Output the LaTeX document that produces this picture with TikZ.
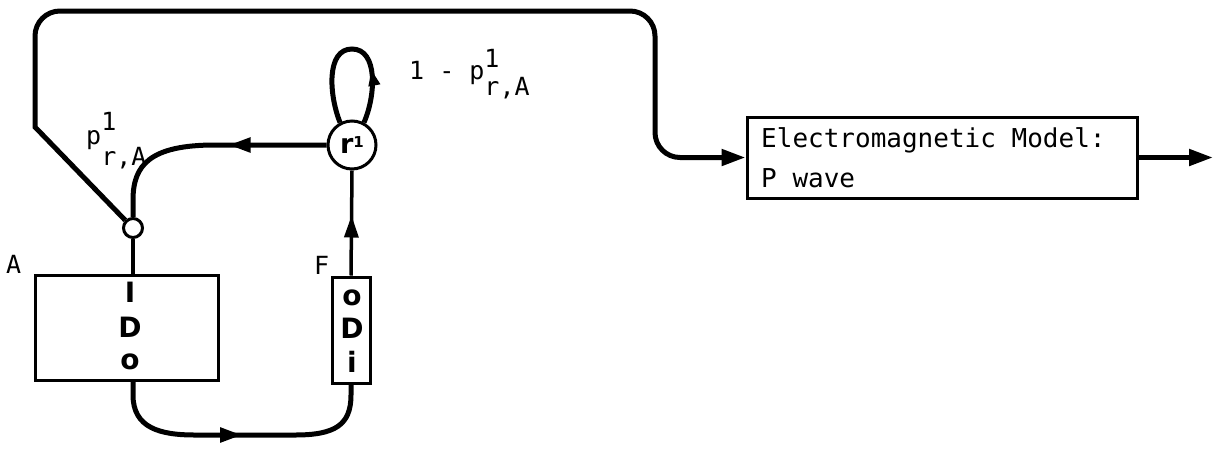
\documentclass[tikz,border=0pt]{standalone}
\usepackage{fontspec}
\newfontfamily\monof{DejaVu Sans Mono}
\newfontfamily\sansf{DejaVu Sans}
\usetikzlibrary{arrows.meta,decorations.markings,calc}
\begin{document}
\begin{tikzpicture}[x=1pt,y=-1pt,
  conn/.style={line width=5pt},
  thinconn/.style={line width=3.5pt},
  box/.style={draw,line width=3pt,inner sep=0pt},
  lbl/.style={font=\monof\fontsize{25}{25}\selectfont, inner sep=0pt, anchor=base west},
  emtext/.style={font=\monof\fontsize{26}{26}\selectfont, inner sep=0pt, anchor=base west},
  inbox/.style={font=\sansf\bfseries\fontsize{28}{28}\selectfont, inner sep=0pt},
  arrowat/.style={postaction={decorate,decoration={markings,mark=at position #1 with {\arrow{Triangle[length=22pt,width=14pt]}}}}},
  smallarrowat/.style={postaction={decorate,decoration={markings,mark=at position #1 with {\arrow{Triangle[length=16pt,width=11pt]}}}}},
  tipend/.style={-{Triangle[length=24pt,width=16pt]}}
]
\useasboundingbox (0,0) rectangle (1214,448);

% boxes and circles
\node[box, minimum width=183pt, minimum height=105pt] (A) at (126.5,327.5) {};
\node[box, minimum width=38pt, minimum height=106pt] (F) at (351,330) {};
\node[box, circle, minimum size=48pt, line width=3pt,
      font=\sansf\bfseries\fontsize{27}{27}\selectfont] (r) at (352,145)
      {r\raisebox{6pt}{\fontsize{15}{15}\selectfont 1}};
\node[box, circle, minimum size=19pt, line width=3pt] (J) at (133,228) {};
\node[box, minimum width=390pt, minimum height=81pt] (EM) at (942,157.5) {};
\coordinate (out) at (1213,157.5);

% texts in boxes
\node[inbox] (AI) at (130,292) {I};
\node[inbox] (AD) at (130,327) {D};
\node[inbox] (Ao) at (130,362) {o};
\node[inbox] (Fo) at (352,298) {o};
\node[inbox] (FD) at (352,328) {D};
\node[inbox] (Fi) at (352,362) {i};
\node[emtext] (EM1) at (761,147) {Electromagnetic Model:};
\node[emtext] (EM2) at (761,187) {P wave};

% labels
\node[lbl] (lA) at (6,273) {A};
\node[lbl] (lF) at (314,274) {F};
\node[lbl] (lp) at (86,144) {p\makebox[0pt][l]{\raisebox{14pt}{1}}\raisebox{-21pt}{r,A}};
\node[lbl] (lq) at (409,79) {1 - p\makebox[0pt][l]{\raisebox{12pt}{1}}\raisebox{-16pt}{r,A}};

% connectors
\draw[conn, tipend] (J.135) -- (35,127) [rounded corners=25pt] -- (35,11) -- (655,11) -- (655,157.5) -- (EM.west);
\draw[conn, arrowat=98pt] (r.west) -- (215,145) .. controls (150,145) and (133,165) .. (133,200) -- (J.north);
\draw[thinconn, arrowat=60pt] (F.north) -- (r.south);
\draw[thinconn] (A.north -| J) -- (J.south);
\draw[conn, arrowat=145pt] (A.south -| J) -- (133,395) .. controls (133,428) and (160,435) .. (195,435) -- (295,435) .. controls (335,435) and (351,425) .. (351,395) -- (F.south);
\draw[conn, smallarrowat=54pt] (r.62) .. controls (376,95) and (378,49) .. (352,49) .. controls (326,49) and (329,95) .. (r.118);
\draw[conn, tipend] (EM.east) -- (out);
\end{tikzpicture}
\end{document}
